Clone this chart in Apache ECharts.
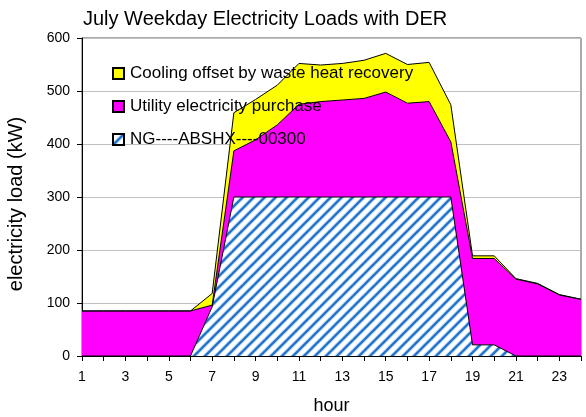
<!DOCTYPE html>
<html>
<head>
<meta charset="utf-8">
<script src="https://cdn.jsdelivr.net/npm/echarts@6/dist/echarts.min.js"></script>
<style>
  html, body { margin: 0; padding: 0; background: #fff; }
  #chart { width: 586px; height: 417px; }
</style>
</head>
<body>
<div id="chart"></div>
<script>
const hours = ["1","2","3","4","5","6","7","8","9","10","11","12","13","14","15","16","17","18","19","20","21","22","23","24"];
// kW per hour, stacked bottom to top
const ngAbshx = [0, 0, 0, 0, 0, 0, 93, 300, 300, 300, 300, 300, 300, 300, 300, 300, 300, 300, 21, 21, 0, 0, 0, 0];
const utilityPurchase = [85, 85, 85, 85, 85, 85, 3, 87, 108, 136, 175, 180, 183, 186, 198, 177, 180, 104, 163, 163, 145, 136, 115, 107];
const coolingOffset = [0, 0, 0, 0, 0, 0, 22, 72, 76, 75, 77, 69, 69, 72, 73, 73, 74, 70, 5, 5, 1, 1, 1, 0];

const FONT = "Liberation Sans, Arial, sans-serif";

// blue / white diagonal hatch
const makeHatch = () => {
  const c = document.createElement("canvas");
  const s = 11;
  c.width = s;
  c.height = s;
  const ctx = c.getContext("2d");
  ctx.fillStyle = "#ffffff";
  ctx.fillRect(0, 0, s, s);
  const stripe = (w, col) => {
    ctx.strokeStyle = col;
    ctx.lineWidth = w;
    for (let k = -1; k <= 1; k++) {
      ctx.beginPath();
      ctx.moveTo(k * s - 1, s + 1);
      ctx.lineTo(k * s + s + 1, -1);
      ctx.stroke();
    }
  };
  stripe(4, "#b5d3f0");
  stripe(2.2, "#1f72c8");
  return c;
};
const hatch = { image: makeHatch(), repeat: "repeat" };

const chart = echarts.init(document.getElementById("chart"), null, { renderer: "canvas" });

const areaSeries = (name, data, fill) => ({
  name: name,
  type: "line",
  stack: "load",
  data: data,
  showSymbol: false,
  symbol: "none",
  lineStyle: { color: "#000", width: 1 },
  itemStyle: { color: fill, borderColor: "#000", borderWidth: 1 },
  areaStyle: { color: fill, opacity: 1 },
  emphasis: { disabled: true },
});

const option = {
  animation: false,
  title: {
    text: "July Weekday Electricity Loads with DER",
    left: 78,
    top: 4,
    textStyle: { fontFamily: FONT, fontSize: 20, fontWeight: "normal", color: "#000" },
  },
  legend: {
    orient: "vertical",
    left: 107,
    top: 60,
    itemGap: 16,
    itemWidth: 11,
    itemHeight: 11,
    icon: "rect",
    data: ["Cooling offset by waste heat recovery", "Utility electricity purchase", "NG----ABSHX----00300"],
    textStyle: { fontFamily: FONT, fontSize: 17, color: "#000", padding: [0, 0, 0, 1] },
  },
  grid: {
    left: 82,
    right: 5,
    top: 38,
    bottom: 61,
    outerBoundsMode: "none",
    containLabel: false,
    show: true,
    borderColor: "#555",
    borderWidth: 1,
  },
  xAxis: {
    type: "category",
    data: hours,
    boundaryGap: false,
    name: "hour",
    nameLocation: "middle",
    nameGap: 41,
    nameTextStyle: { fontFamily: FONT, fontSize: 18, color: "#000" },
    axisLine: { lineStyle: { color: "#000", width: 1 } },
    axisTick: { interval: 0, length: 5, lineStyle: { color: "#000" } },
    axisLabel: { interval: 1, margin: 14, fontFamily: FONT, fontSize: 14, color: "#000" },
    splitLine: { show: false },
  },
  yAxis: {
    type: "value",
    min: 0,
    max: 600,
    interval: 100,
    name: "electricity load (kW)",
    nameLocation: "middle",
    nameGap: 56,
    nameTextStyle: { fontFamily: FONT, fontSize: 20, color: "#000", padding: [0, 14, 0, 0] },
    axisLine: { show: true, lineStyle: { color: "#000", width: 1 } },
    axisTick: { show: true, length: 5, lineStyle: { color: "#000" } },
    axisLabel: { margin: 12, fontFamily: FONT, fontSize: 14, color: "#000" },
    splitLine: { lineStyle: { color: "#c0c0c0", width: 1 } },
  },
  series: [
    areaSeries("NG----ABSHX----00300", ngAbshx, hatch),
    areaSeries("Utility electricity purchase", utilityPurchase, "#ff00ff"),
    areaSeries("Cooling offset by waste heat recovery", coolingOffset, "#ffff00"),
  ],
};

option && chart.setOption(option);
</script>
</body>
</html>
